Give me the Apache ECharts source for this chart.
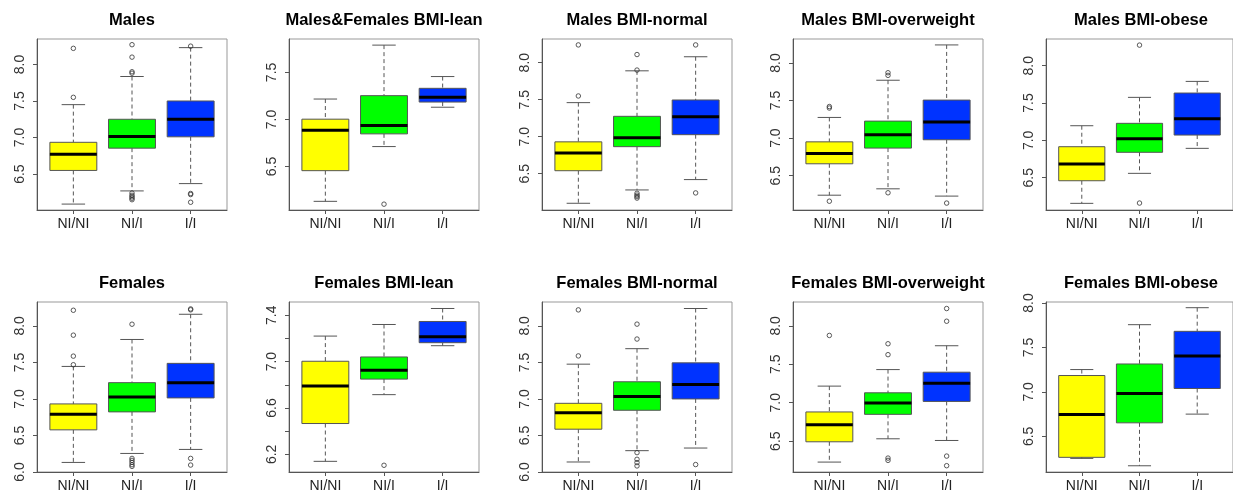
<!DOCTYPE html>
<html><head><meta charset="utf-8">
<script src="https://cdn.jsdelivr.net/npm/echarts@6/dist/echarts.min.js"></script>
<style>html,body{margin:0;padding:0;background:#fff}#c{width:1233px;height:493px}</style>
</head><body><div id="c"></div>
<script>
const categories = ['NI/NI', 'NI/I', 'I/I'];
const titles = ['Males', 'Males&Females BMI-lean', 'Males BMI-normal', 'Males BMI-overweight', 'Males BMI-obese',
  'Females', 'Females BMI-lean', 'Females BMI-normal', 'Females BMI-overweight', 'Females BMI-obese'];

// box stats per group: [lower whisker, Q1, median, Q3, upper whisker]
const malesStats = [[6.09, 6.55, 6.77, 6.935, 7.45], [6.27, 6.855, 7.015, 7.25, 7.835], [6.37, 7.01, 7.25, 7.50, 8.23]];
const malesOut = [[1, 8.22], [1, 7.55], [2, 8.27], [2, 8.10], [2, 7.90], [2, 7.88], [2, 6.24], [2, 6.21], [2, 6.19], [2, 6.17], [2, 6.15], [3, 8.25], [3, 6.235], [3, 6.22], [3, 6.115]];

const mfLeanStats = [[6.13, 6.456, 6.886, 7.003, 7.217], [6.712, 6.847, 6.936, 7.253, 7.79], [7.13, 7.185, 7.235, 7.331, 7.456]];
const mfLeanOut = [[2, 6.10]];

const mNormalStats = [[6.10, 6.54, 6.78, 6.93, 7.46], [6.28, 6.865, 6.987, 7.275, 7.89], [6.42, 7.027, 7.27, 7.496, 8.08]];
const mNormalOut = [[1, 8.24], [1, 7.55], [2, 8.11], [2, 7.90], [2, 6.235], [2, 6.21], [2, 6.19], [2, 6.17], [3, 8.24], [3, 6.24]];

const mOverStats = [[6.24, 6.658, 6.796, 6.95, 7.275], [6.325, 6.867, 7.044, 7.226, 7.77], [6.228, 6.978, 7.213, 7.506, 8.24]];
const mOverOut = [[1, 7.42], [1, 7.40], [1, 6.16], [2, 7.87], [2, 7.835], [2, 6.272], [3, 6.135]];

const mObeseStats = [[6.156, 6.459, 6.683, 6.915, 7.196], [6.558, 6.84, 7.022, 7.228, 7.576], [6.893, 7.071, 7.29, 7.634, 7.79]];
const mObeseOut = [[2, 8.276], [2, 6.16]];

const femalesStats = [[6.131, 6.577, 6.79, 6.932, 7.445], [6.254, 6.823, 7.027, 7.223, 7.814], [6.309, 7.014, 7.223, 7.487, 8.159]];
const femalesOut = [[1, 8.214], [1, 7.873], [1, 7.586], [1, 7.468], [2, 8.023], [2, 6.186], [2, 6.159], [2, 6.131], [2, 6.10], [2, 6.077], [3, 8.232], [3, 8.22], [3, 6.186], [3, 6.095]];

const fLeanStats = [[6.14, 6.466, 6.789, 7.003, 7.22], [6.715, 6.849, 6.926, 7.04, 7.32], [7.137, 7.163, 7.214, 7.346, 7.458]];
const fLeanOut = [[2, 6.106]];

const fNormalStats = [[6.137, 6.586, 6.81, 6.94, 7.476], [6.292, 6.845, 7.035, 7.235, 7.688], [6.328, 7.0, 7.199, 7.494, 8.238]];
const fNormalOut = [[1, 8.219], [1, 7.589], [2, 8.024], [2, 7.82], [2, 6.265], [2, 6.174], [2, 6.129], [2, 6.083], [3, 6.102]];

const fOverStats = [[6.228, 6.492, 6.712, 6.88, 7.216], [6.531, 6.849, 6.996, 7.129, 7.431], [6.509, 7.017, 7.254, 7.397, 7.741]];
const fOverOut = [[1, 7.875], [2, 7.767], [2, 7.625], [2, 6.28], [2, 6.25], [3, 8.225], [3, 8.06], [3, 6.306], [3, 6.181]];

const fObeseStats = [[6.252, 6.264, 6.746, 7.184, 7.251], [6.169, 6.652, 6.982, 7.314, 7.756], [6.75, 7.038, 7.404, 7.681, 7.947]];
const fObeseOut = [];

// y axis extents and ticks per panel
const yMin = [6.009, 6.038, 6.009, 6.043, 6.067, 6.0, 6.048, 6.0, 6.099, 6.099];
const yMax = [8.348, 7.855, 8.32, 8.319, 8.358, 8.327, 7.514, 8.327, 8.31, 8.011];
const ticksA = [6.5, 7.0, 7.5, 8.0];
const ticksB = [6.5, 7.0, 7.5];
const ticksC = [6.0, 6.5, 7.0, 7.5, 8.0];
const ticksLean = [6.2, 6.4, 6.6, 6.8, 7.0, 7.2, 7.4];
const labelsLean = [6.2, 6.6, 7.0, 7.4];
const yTicks = [ticksA, ticksB, ticksA, ticksA, ticksA, ticksC, ticksLean, ticksC, ticksA, ticksA];
const yLabels = [ticksA, ticksB, ticksA, ticksA, ticksA, ticksC, labelsLean, ticksC, ticksA, ticksA];

const allStats = [malesStats, mfLeanStats, mNormalStats, mOverStats, mObeseStats, femalesStats, fLeanStats, fNormalStats, fOverStats, fObeseStats];
const allOut = [malesOut, mfLeanOut, mNormalOut, mOverOut, mObeseOut, femalesOut, fLeanOut, fNormalOut, fOverOut, fObeseOut];

const boxColors = ['#FFFF00', '#00FF00', '#0033FF'];
const colLeft = [37, 289, 542, 793, 1046];
const rowTop = [39, 302];
const gw = 190, gh = 171;
const FONT = 'Liberation Sans, Arial, sans-serif';

function renderBox(params, api) {
  const x = api.value(0);
  const lo = api.coord([x, api.value(1)]);
  const q1 = api.coord([x, api.value(2)]);
  const md = api.coord([x, api.value(3)]);
  const q3 = api.coord([x, api.value(4)]);
  const hi = api.coord([x, api.value(5)]);
  const hw = api.size([0.4, 0])[0];
  const cw = api.size([0.2, 0])[0];
  const cx = lo[0];
  const color = boxColors[params.dataIndex];
  const dash = { stroke: '#555', lineWidth: 1, lineDash: [4, 3] };
  const solid = { stroke: '#555', lineWidth: 1 };
  return {
    type: 'group', children: [
      { type: 'line', shape: { x1: cx, y1: hi[1], x2: cx, y2: q3[1] }, style: dash },
      { type: 'line', shape: { x1: cx, y1: q1[1], x2: cx, y2: lo[1] }, style: dash },
      { type: 'line', shape: { x1: cx - cw, y1: hi[1], x2: cx + cw, y2: hi[1] }, style: solid },
      { type: 'line', shape: { x1: cx - cw, y1: lo[1], x2: cx + cw, y2: lo[1] }, style: solid },
      { type: 'rect', shape: { x: cx - hw, y: q3[1], width: 2 * hw, height: q1[1] - q3[1] }, style: { fill: color, stroke: '#555', lineWidth: 1 } },
      { type: 'line', shape: { x1: cx - hw, y1: md[1], x2: cx + hw, y2: md[1] }, style: { stroke: '#000', lineWidth: 3 } }
    ]
  };
}

const grid = [], xAxis = [], yAxis = [], series = [], title = [];
for (let i = 0; i < 10; i++) {
  const left = colLeft[i % 5], top = rowTop[Math.floor(i / 5)];
  const isLast = (i % 5) === 4;
  const w = isLast ? 190 : gw;
  grid.push({ left: left, top: top, width: w, height: gh, show: true, borderColor: '#999', borderWidth: 1, containLabel: false });
  title.push({
    text: titles[i], left: left + w / 2, top: top - 27, textAlign: 'center', padding: 0,
    textStyle: { fontSize: 16.5, fontWeight: 'bold', color: '#000', fontFamily: FONT }
  });
  xAxis.push({
    type: 'value', gridIndex: i, min: 0.38, max: 3.62, splitLine: { show: false },
    axisLine: { show: true, onZero: false, lineStyle: { color: '#555' } },
    axisTick: { show: true, length: 4, customValues: [1, 2, 3], lineStyle: { color: '#555' } },
    axisLabel: {
      customValues: [1, 2, 3], fontSize: 14, color: '#222', margin: 7, fontFamily: FONT,
      formatter: v => categories[Math.round(v) - 1]
    }
  });
  yAxis.push({
    type: 'value', gridIndex: i, min: yMin[i], max: yMax[i], splitLine: { show: false },
    axisLine: { show: true, onZero: false, lineStyle: { color: '#555' } },
    axisTick: { show: true, length: 4, customValues: yTicks[i], lineStyle: { color: '#555' } },
    axisLabel: {
      customValues: yLabels[i], rotate: 90, fontSize: 14, color: '#333', margin: 10, fontFamily: FONT,
      formatter: v => Number(v).toFixed(1)
    }
  });
  series.push({
    type: 'custom', xAxisIndex: i, yAxisIndex: i, renderItem: renderBox, silent: true,
    encode: { x: 0, y: [1, 2, 3, 4, 5] },
    data: allStats[i].map((s, k) => [k + 1].concat(s))
  });
  series.push({
    type: 'scatter', xAxisIndex: i, yAxisIndex: i, silent: true, symbol: 'circle', symbolSize: 4.5,
    itemStyle: { color: 'rgba(255,255,255,0)', borderColor: '#333', borderWidth: 1 },
    data: allOut[i]
  });
}

const chart = echarts.init(document.getElementById('c'), null, { renderer: 'canvas' });
chart.setOption({ animation: false, backgroundColor: '#fff', title, grid, xAxis, yAxis, series });
</script>
</body></html>
